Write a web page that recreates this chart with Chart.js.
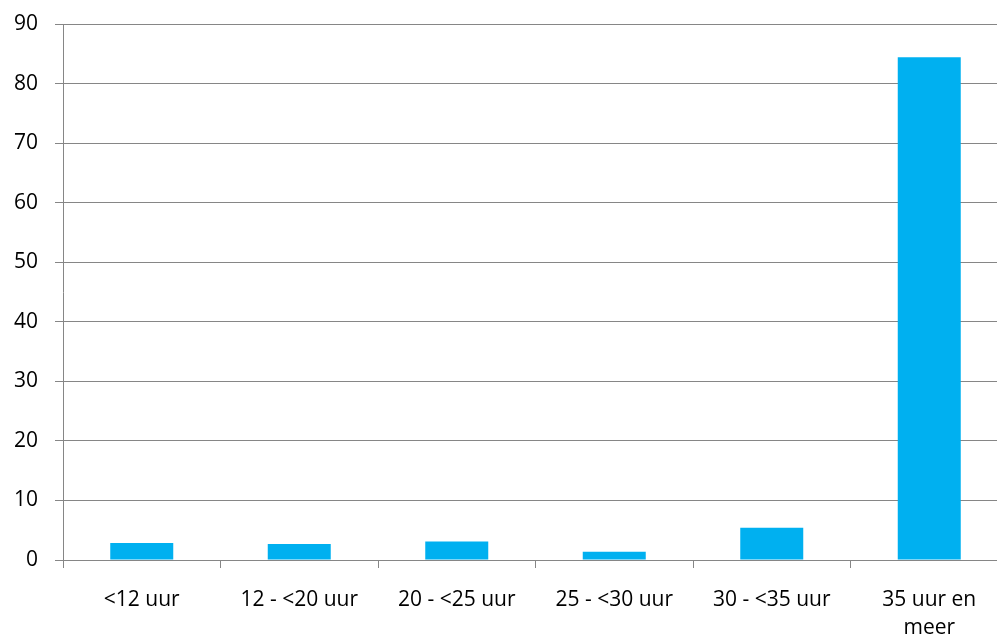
<!DOCTYPE html>
<html>
<head>
<meta charset="utf-8">
<script src="https://cdn.jsdelivr.net/npm/chart.js@4"></script>
<style>
  html, body { margin: 0; padding: 0; background: #fff; overflow: hidden; }
  #wrap { width: 1010px; height: 637px; }
</style>
</head>
<body>
<div id="wrap"><canvas id="chart" width="1010" height="637"></canvas></div>
<script>
const categories = ['<12 uur', '12 - <20 uur', '20 - <25 uur', '25 - <30 uur', '30 - <35 uur', ['35 uur en', 'meer']];
const values = [2.85, 2.7, 3.1, 1.4, 5.4, 84.4];
const yTicks = [0, 10, 20, 30, 40, 50, 60, 70, 80, 90];

const gridColor = '#868686';
const font = { family: '"Open Sans", sans-serif', size: 21, lineHeight: 1.33 };

new Chart(document.getElementById('chart'), {
  type: 'bar',
  data: {
    labels: categories,
    datasets: [{ data: values, backgroundColor: '#00B0F0', barPercentage: 0.4, categoryPercentage: 1 }]
  },
  options: {
    responsive: false,
    animation: false,
    layout: { padding: { top: 24, left: 0, right: 2, bottom: 0 } },
    plugins: { legend: { display: false }, tooltip: { enabled: false } },
    scales: {
      x: {
        grid: { drawOnChartArea: false, color: gridColor, tickLength: 8, offset: true },
        border: { color: gridColor, width: 1 },
        ticks: { color: '#000', font, padding: 18, maxRotation: 0, autoSkip: false },
        afterFit: (s) => { s.height = 77; }
      },
      y: {
        min: 0,
        max: 90,
        afterBuildTicks: (s) => { s.ticks = yTicks.map((v) => ({ value: v })); },
        grid: { color: gridColor, tickLength: 8 },
        border: { color: gridColor, width: 1 },
        ticks: { color: '#000', font, padding: 17 },
        afterFit: (s) => { s.width = 63; s.paddingTop = 0; s.paddingBottom = 0; }
      }
    }
  }
});
</script>
</body>
</html>
